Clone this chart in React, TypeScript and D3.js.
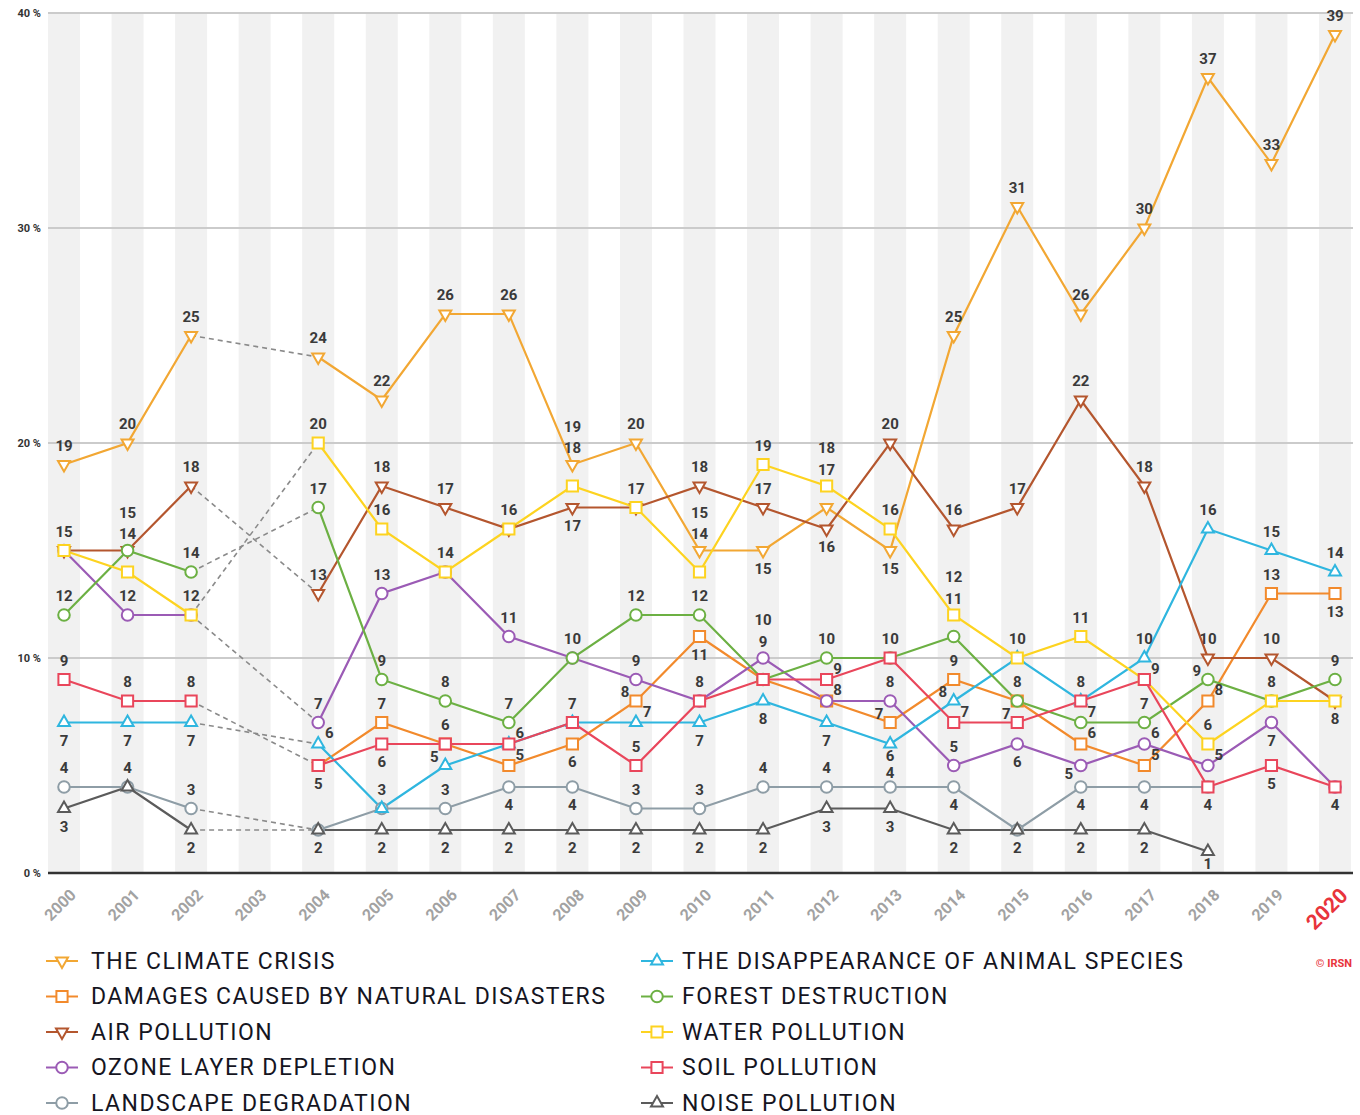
import React from "react";
import * as d3 from "d3";

// survey years (2003 has no data)
const years = [2000, 2001, 2002, 2003, 2004, 2005, 2006, 2007, 2008, 2009, 2010,
  2011, 2012, 2013, 2014, 2015, 2016, 2017, 2018, 2019, 2020];
const yTicks = [0, 10, 20, 30, 40];

const names = [
  "THE CLIMATE CRISIS",
  "DAMAGES CAUSED BY NATURAL DISASTERS",
  "AIR POLLUTION",
  "OZONE LAYER DEPLETION",
  "LANDSCAPE DEGRADATION",
  "THE DISAPPEARANCE OF ANIMAL SPECIES",
  "FOREST DESTRUCTION",
  "WATER POLLUTION",
  "SOIL POLLUTION",
  "NOISE POLLUTION",
];

const climate = [19, 20, 25, null, 24, 22, 26, 26, 19, 20, 15, 15, 17, 15, 25, 31, 26, 30, 37, 33, 39];
const damages = [null, null, null, null, 5, 7, 6, 5, 6, 8, 11, 9, 8, 7, 9, 8, 6, 5, 8, 13, 13];
const air = [15, 15, 18, null, 13, 18, 17, 16, 17, 17, 18, 17, 16, 20, 16, 17, 22, 18, 10, 10, 8];
const ozone = [15, 12, 12, null, 7, 13, 14, 11, 10, 9, 8, 10, 8, 8, 5, 6, 5, 6, 5, 7, 4];
const landscape = [4, 4, 3, null, 2, 3, 3, 4, 4, 3, 3, 4, 4, 4, 4, 2, 4, 4, 4, null, null];
const animals = [7, 7, 7, null, 6, 3, 5, 6, 7, 7, 7, 8, 7, 6, 8, 10, 8, 10, 16, 15, 14];
const forest = [12, 15, 14, null, 17, 9, 8, 7, 10, 12, 12, 9, 10, 10, 11, 8, 7, 7, 9, 8, 9];
const water = [15, 14, 12, null, 20, 16, 14, 16, 18, 17, 14, 19, 18, 16, 12, 10, 11, 9, 6, 8, 8];
const soil = [9, 8, 8, null, 5, 6, 6, 6, 7, 5, 8, 9, 9, 10, 7, 7, 8, 9, 4, 5, 4];
const noise = [3, 4, 2, null, 2, 2, 2, 2, 2, 2, 2, 2, 3, 3, 2, 2, 2, 2, 1, null, null];

const values = [climate, damages, air, ozone, landscape, animals, forest, water, soil, noise];

const colors = ["#f2a733", "#f28a2c", "#b4562e", "#9b5bb5", "#8e9da6",
  "#2fb6df", "#6cb043", "#fdd320", "#e9465b", "#5b5b5b"];
const shapes = ["down", "square", "down", "circle", "circle", "up", "circle", "square", "square", "up"];

// where each value label sits: a above, A two rows above, b below, s/t close below/above,
// r right, l left, L left-below, . none
const labelPos = [
  "aaa.aaaaAaAbAbaaaaaaa",
  "....baarblbA.la.rrrab",
  "aAa.aaaabaaabaaaaaaab",
  ".aa.aaaaaaaAraabLrrbb",
  "aaa...abbaaaatb.bb...",
  "bbb.ralr.rbbbsl..aaaa",
  "a.a.aaaa.aa.a.Aaralaa",
  ".A..aa..A.AaAaAaa.a..",
  "aaa..b..aa..rarlarbb.",
  "b.b.bbbbbbbbbbbbbbs..",
];

const W = 1360;
const H = 1115;

const x = d3.scaleLinear().domain([2000, 2020]).range([64, 1335]);
const y = d3.scaleLinear().domain([0, 40]).range([873, 13]);
const bandW = 32;
const plotLeft = 48;
const plotRight = 1353;

const offsets: Record<string, [number, number]> = {
  a: [0, -19],
  A: [0, -38],
  b: [0, 18],
  s: [0, 12],
  t: [0, -14],
  r: [11, -11],
  l: [-11, -9],
  L: [-12, 8],
};

function symbolPath(shape: string) {
  if (shape === "square") return d3.symbol(d3.symbolSquare, 125)()!;
  if (shape === "circle") return d3.symbol(d3.symbolCircle, 105)()!;
  return d3.symbol(d3.symbolTriangle, 62)()!;
}

function Marker({ shape, color, cx, cy }: { shape: string; color: string; cx: number; cy: number }) {
  const rot = shape === "down" ? 180 : 0;
  return (
    <path
      d={symbolPath(shape)}
      transform={`translate(${cx},${cy}) rotate(${rot})`}
      fill="#fff"
      stroke={color}
      strokeWidth={2}
    />
  );
}

export default function App() {
  const line = d3
    .line<number | null>()
    .defined((d) => d != null)
    .x((_, i) => x(years[i]))
    .y((d) => y(d as number));

  // gray dashed link across the missing 2003 survey
  const gapLinks = values
    .map((v, i) => ({ i, a: v[2], b: v[4] }))
    .filter((d) => d.a != null && d.b != null);

  const legendRow = d3.scaleLinear().domain([0, 4]).range([961, 1103]);

  return (
    <svg width={W} height={H} style={{ position: "absolute", left: 0, top: 0 }} fontFamily="Roboto, sans-serif">
      <rect width={W} height={H} fill="#fff" />
      {years.map((yr) => (
        <rect key={yr} x={x(yr) - bandW / 2} y={y(40)} width={bandW} height={y(0) - y(40)} fill="#f1f1f1" />
      ))}
      {yTicks.map((t) => (
        <g key={t}>
          {t > 0 && (
            <line x1={plotLeft} x2={plotRight} y1={y(t)} y2={y(t)} stroke="#cbcbcb" strokeWidth={2} />
          )}
          <text x={41} y={y(t)} textAnchor="end" dominantBaseline="central" fontSize={11} fontWeight={700} fill="#333">
            {t} %
          </text>
        </g>
      ))}
      <line x1={plotLeft} x2={plotRight} y1={y(0)} y2={y(0)} stroke="#333" strokeWidth={2.5} />

      {years.map((yr) => (
        <text
          key={yr}
          transform={`translate(${x(yr) + 9},${y(0) + 19}) rotate(-45)`}
          textAnchor="end"
          dominantBaseline="central"
          fontSize={yr === 2020 ? 21 : 16}
          fontWeight={700}
          fill={yr === 2020 ? "#e8343c" : "#a2a2a2"}
        >
          {yr}
        </text>
      ))}

      {gapLinks.map((d) => (
        <line
          key={d.i}
          x1={x(years[2])}
          x2={x(years[4])}
          y1={y(d.a as number)}
          y2={y(d.b as number)}
          stroke="#8a8a8a"
          strokeWidth={1.6}
          strokeDasharray="5,4"
        />
      ))}

      {values.map((v, i) => (
        <path key={i} d={line(v) || ""} fill="none" stroke={colors[i]} strokeWidth={2.2} />
      ))}

      {values.map((v, i) =>
        v.map((d, j) =>
          d == null ? null : (
            <Marker key={`${i}-${j}`} shape={shapes[i]} color={colors[i]} cx={x(years[j])} cy={y(d)} />
          )
        )
      )}

      {values.map((v, i) =>
        v.map((d, j) => {
          const p = labelPos[i][j];
          if (d == null || !offsets[p]) return null;
          const [dx, dy] = offsets[p];
          return (
            <text
              key={`l${i}-${j}`}
              x={x(years[j]) + dx}
              y={y(d) + dy}
              textAnchor="middle"
              dominantBaseline="central"
              fontSize={15}
              fontWeight={700}
              fill="#3a3a3a"
            >
              {d}
            </text>
          );
        })
      )}

      {names.map((n, i) => {
        const col = Math.floor(i / 5);
        const mx = col === 0 ? 62 : 657;
        const tx = col === 0 ? 91 : 682;
        const ry = legendRow(i % 5);
        return (
          <g key={n}>
            <line x1={mx - 16} x2={mx + 16} y1={ry} y2={ry} stroke={colors[i]} strokeWidth={2} />
            <Marker shape={shapes[i]} color={colors[i]} cx={mx} cy={ry} />
            <text x={tx} y={ry} dominantBaseline="central" fontSize={23} letterSpacing={1.5} fill="#15151f">
              {n}
            </text>
          </g>
        );
      })}

      <text x={1352} y={963} textAnchor="end" dominantBaseline="central" fontSize={11} fontWeight={700} fill="#e8343c">
        © IRSN
      </text>
    </svg>
  );
}
